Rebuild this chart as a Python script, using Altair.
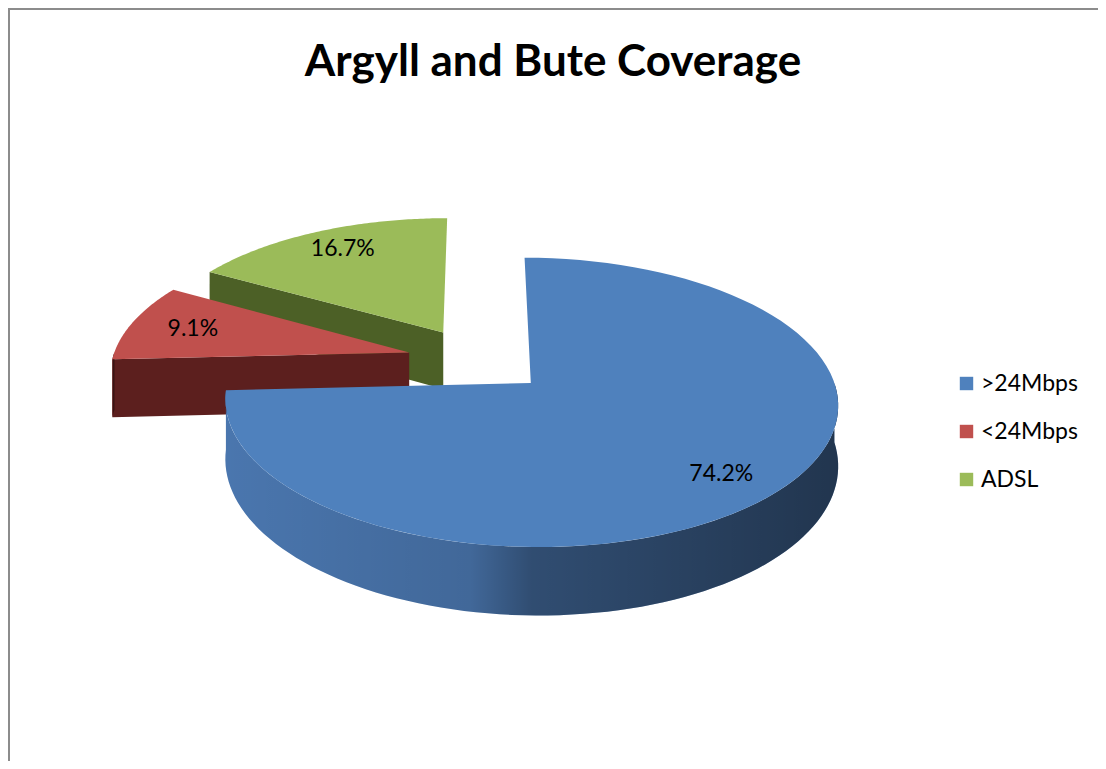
import math
import altair as alt
import pandas as pd

# ---- data ----
labels = [">24Mbps", "<24Mbps", "ADSL"]
values = [74.2, 9.1, 16.7]
order = [0, 1, 2]

# ---- styles ----
top_colors = ["#4F81BD", "#C0504D", "#9BBB59"]
side_colors = ["#4a76ae", "#5c1f1e", "#4c6026"]
FONT = "Lato"

df = pd.DataFrame({"label": labels, "value": values, "order": order})

# ---- geometry of the tilted (3-D look) pie ----
W, H = 1090, 753
CX, CY = 470, 352      # projected pie centre (plot coords)
RX, RY = 297, 136      # horizontal / vertical radii
Q = 0.131              # perspective strength
E = 0.24               # explode distance (fraction of radius)
D = 58                 # thickness
N = 90                 # arc resolution
FU, FV = 0.78, 0.84    # label radius fractions (horizontal / depth)

# painter's order: slices farther back (mid-angle pointing away) first
tot = sum(values)
cum = 0.0
depth = []
for v in values:
    mid = 2 * math.pi * (cum + v / 2) / tot
    depth.append(math.cos(mid))
    cum += v
draw_order = sorted(order, key=lambda i: -depth[i])

xs = alt.Scale(domain=[0, W], nice=False, zero=False)
ys = alt.Scale(domain=[0, H], nice=False, zero=False, reverse=True)
X = alt.X("px:Q", scale=xs, axis=None)
Y = alt.Y("py:Q", scale=ys, axis=None)

base = (
    alt.Chart(df)
    .transform_joinaggregate(total="sum(value)")
    .transform_window(cum="sum(value)", sort=[alt.SortField("order")], frame=[None, 0])
    .transform_calculate(a0="2*PI*(datum.cum-datum.value)/datum.total")
    .transform_calculate(a1="2*PI*datum.cum/datum.total")
    .transform_calculate(mid="(datum.a0+datum.a1)/2")
    .transform_calculate(eu=f"{E}*sin(datum.mid)")
    .transform_calculate(ev=f"{E}*cos(datum.mid)")
)


def project(ch, drop="0"):
    return (
        ch.transform_calculate(s=f"1/(1+{Q}*datum.v)")
        .transform_calculate(px=f"{CX}+{RX}*datum.u*datum.s")
        .transform_calculate(py=f"{CY}-{RY}*datum.v*datum.s+({drop})*{D}*datum.s")
    )


side_color = alt.Color("label:N", scale=alt.Scale(domain=labels, range=side_colors), legend=None)
legend = alt.Legend(
    title=None, orient="none", legendX=947, legendY=364,
    symbolType="square", symbolSize=180, symbolStrokeWidth=0,
    labelFont=FONT, labelFontSize=23, labelColor="black",
    rowPadding=24, labelOffset=3,
)

shade_grad = alt.Gradient(
    gradient="linear",
    stops=[
        alt.GradientStop(color="rgba(0,0,0,0.0)", offset=0),
        alt.GradientStop(color="rgba(0,0,0,0.12)", offset=0.4),
        alt.GradientStop(color="rgba(0,0,0,0.35)", offset=0.5),
        alt.GradientStop(color="rgba(0,0,0,0.55)", offset=1),
    ],
    x1=0, x2=1, y1=0, y2=0,
)


def slice_layers(i, with_legend):
    b = base.transform_filter(f"datum.order=={i}")
    # radial (cut) faces that face the viewer
    faces = project(
        b.transform_calculate(k="sequence(0,8)")
        .transform_flatten(["k"])
        .transform_calculate(f="floor(datum.k/4)")
        .transform_calculate(j="datum.k%4")
        .transform_calculate(ang="datum.f==0?datum.a0:datum.a1")
        .transform_calculate(vis="datum.f==0?(sin(datum.a0)<-0.001):(sin(datum.a1)>0.001)")
        .transform_filter("datum.vis")
        .transform_calculate(rim="(datum.j==1||datum.j==2)?1:0")
        .transform_calculate(bot="datum.j>=2?1:0")
        .transform_calculate(u="datum.eu+datum.rim*sin(datum.ang)")
        .transform_calculate(v="datum.ev+datum.rim*cos(datum.ang)"),
        drop="datum.bot",
    ).mark_line(filled=True, strokeWidth=0).encode(
        x=X, y=Y, order="k:Q", detail=["label:N", "f:N"], color=side_color
    )
    # curved outer wall (front half only)
    wall_src = project(
        b.transform_calculate(b0="max(datum.a0,PI/2)")
        .transform_calculate(b1="min(datum.a1,3*PI/2)")
        .transform_filter("datum.b1>datum.b0")
        .transform_calculate(k=f"sequence(0,{2 * N + 2})")
        .transform_flatten(["k"])
        .transform_calculate(bot=f"datum.k>{N}?1:0")
        .transform_calculate(
            th=f"datum.k<={N}?datum.b0+datum.k/{N}*(datum.b1-datum.b0):datum.b1-(datum.k-{N + 1})/{N}*(datum.b1-datum.b0)"
        )
        .transform_calculate(u="datum.eu+sin(datum.th)")
        .transform_calculate(v="datum.ev+cos(datum.th)"),
        drop="datum.bot",
    )
    wall = wall_src.mark_line(filled=True, strokeWidth=0).encode(
        x=X, y=Y, order="k:Q", detail="label:N", color=side_color
    )
    shade = wall_src.mark_line(filled=True, strokeWidth=0, color=shade_grad).encode(
        x=X, y=Y, order="k:Q", detail="label:N"
    )
    # top face
    top = project(
        b.transform_calculate(k=f"sequence(0,{N + 2})")
        .transform_flatten(["k"])
        .transform_calculate(th=f"datum.a0+max(0,min(1,(datum.k-1)/{N}))*(datum.a1-datum.a0)")
        .transform_calculate(u="datum.k==0?datum.eu:datum.eu+sin(datum.th)")
        .transform_calculate(v="datum.k==0?datum.ev:datum.ev+cos(datum.th)")
    ).mark_line(filled=True, strokeWidth=0).encode(
        x=X, y=Y, order="k:Q", detail="label:N",
        color=alt.Color(
            "label:N",
            scale=alt.Scale(domain=labels, range=top_colors),
            sort=labels,
            legend=legend if with_legend else None,
        ),
    )
    return [faces, wall, shade, top]


layers = []
for n, i in enumerate(draw_order):
    layers += slice_layers(i, n == 0)

# data labels
text = project(
    base.transform_calculate(u=f"datum.eu+{FU}*sin(datum.mid)")
    .transform_calculate(v=f"datum.ev+{FV}*cos(datum.mid)")
).transform_calculate(txt="format(datum.value,'.1f')+'%'").mark_text(
    font=FONT, fontSize=23, color="black", dy=2
).encode(x=X, y=Y, text="txt:N")

border_top = alt.Chart(df).mark_rule(color="#8c8c8c", strokeWidth=2).encode(
    x=alt.value(0), x2=alt.value(W), y=alt.value(1)
)
border_left = alt.Chart(df).mark_rule(color="#8c8c8c", strokeWidth=2).encode(
    x=alt.value(1), y=alt.value(0), y2=alt.value(H)
)

chart = (
    alt.layer(*layers, text, border_top, border_left)
    .resolve_scale(color="independent")
    .properties(
        width=W,
        height=H,
        padding=0,
        autosize=alt.AutoSizeParams(type="none"),
        title=alt.TitleParams(
            "Argyll and Bute Coverage", font=FONT, fontSize=44, fontWeight="bold",
            color="black", anchor="middle", dy=82,
        ),
    )
    .configure_view(stroke=None)
)

chart.save("out.html", embed_options={"renderer": "svg", "actions": False})
